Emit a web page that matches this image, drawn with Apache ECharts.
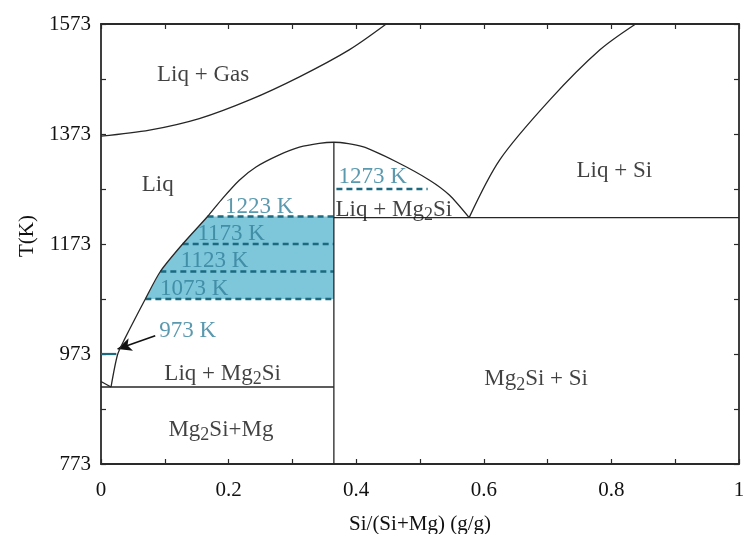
<!DOCTYPE html>
<html>
<head>
<meta charset="utf-8">
<script src="https://cdn.jsdelivr.net/npm/echarts@6/dist/echarts.min.js"></script>
<style>
  html, body { margin: 0; padding: 0; background: #ffffff; }
  #chart { width: 743px; height: 534px; }
</style>
</head>
<body>
<div id="chart"></div>
<script>
// Mg–Si phase diagram: mass fraction of Si against temperature (K)
const T_MIN = 773;
const T_MAX = 1573;
const xTickLabels = ['0', '0.2', '0.4', '0.6', '0.8', '1'];
const yTickLabels = ['773', '973', '1173', '1373', '1573'];

// Phase boundaries as [Si/(Si+Mg), T]
const gasBoundary = [[0, 1369], [0.076, 1380], [0.154, 1401], [0.233, 1435], [0.311, 1477], [0.389, 1526], [0.447, 1573]];
const mg2siLiquidus = [[0.0157, 913], [0.026, 972], [0.037, 1000], [0.0695, 1073], [0.093, 1123], [0.128, 1173], [0.167, 1223],
  [0.1906, 1256], [0.2168, 1289], [0.243, 1313], [0.2795, 1335], [0.311, 1349], [0.342, 1356], [0.365, 1358],
  [0.41, 1350], [0.462, 1323], [0.515, 1289], [0.546, 1262], [0.577, 1221]];
const siLiquidus = [[0.577, 1221], [0.625, 1326], [0.7035, 1435], [0.782, 1526], [0.838, 1573]];
const mgLiquidus = [[0, 923], [0.0157, 913]];
const mgEutectic = [[0, 913], [0.365, 913]];
const siEutectic = [[0.365, 1221], [1, 1221]];
const mg2siLine = [[0.365, 773], [0.365, 1358]];

// Process isotherms inside the Liq + Mg2Si field
const isoTemps = [1073, 1123, 1173, 1223];
const iso1273 = [[0.369, 1273], [0.512, 1273]];
const iso973 = [[0, 973], [0.024, 973]];
const arrow973 = [[0.085, 1006], [0.026, 982]];

// Annotations: [text, x, T]
const regionLabels = [
  ['Liq + Gas', 0.160, 1480],
  ['Liq', 0.089, 1280],
  ['Liq + Mg{s|2}Si', 0.459, 1235],
  ['Liq + Si', 0.8045, 1306],
  ['Mg{s|2}Si + Si', 0.682, 927],
  ['Liq + Mg{s|2}Si', 0.1906, 937],
  ['Mg{s|2}Si+Mg', 0.188, 835]
];
const tempLabels = [
  ['1223 K', 0.248, 1241],
  ['1173 K', 0.204, 1191],
  ['1123 K', 0.178, 1142],
  ['1073 K', 0.146, 1091],
  ['973 K', 0.136, 1014],
  ['1273 K', 0.4257, 1295]
];

const SERIF = '"Liberation Serif", "DejaVu Serif", serif';
const INK = '#111111';
const TEAL_TEXT = '#32809a';
const TEAL_LINE = '#1b6a80';
const FILL = '#7ec6da';

const toY = p => [p[0], p[1] - T_MIN];
const liquidusAt = T => mg2siLiquidus.find(p => p[1] === T);

function boundary(points, extra) {
  return Object.assign({
    type: 'line',
    data: points.map(toY),
    symbol: 'none',
    lineStyle: { color: '#262626', width: 1.3 },
    silent: true,
    z: 5
  }, extra || {});
}

const isoSeries = isoTemps.map(T => ({
  type: 'line',
  symbol: 'none',
  data: [[liquidusAt(T)[0], T], [0.365, T]].map(toY),
  lineStyle: { color: TEAL_LINE, width: 2.5, type: [6, 4] },
  silent: true,
  z: 4
}));

const fillPoly = isoTemps.map(T => liquidusAt(T)).concat([[0.365, 1223], [0.365, 1073]]);

function labelSeries(list, color) {
  return {
    type: 'scatter',
    symbolSize: 0,
    silent: true,
    z: 10,
    data: list.map(l => ({
      value: toY([l[1], l[2]]),
      label: { formatter: l[0] }
    })),
    label: {
      show: true,
      position: 'inside',
      fontFamily: SERIF,
      fontSize: 23,
      color: color,
      rich: { s: { color: color, fontSize: 18, fontFamily: SERIF, padding: [11, 0, 0, 0] } }
    }
  };
}

const axisLineStyle = { color: '#2a2a2a', width: 1.8 };
const tickStyle = { color: '#2a2a2a', width: 1.2 };

function frameAxis(extra) {
  return Object.assign({
    type: 'value',
    axisLine: { show: true, onZero: false, lineStyle: axisLineStyle },
    axisTick: { show: true, inside: true, length: 5, lineStyle: tickStyle },
    minorTick: { show: true, splitNumber: 2, length: 5, lineStyle: tickStyle },
    splitLine: { show: false }
  }, extra);
}

const option = {
  backgroundColor: '#ffffff',
  animation: false,
  grid: { left: 101, right: 4, top: 24, bottom: 70, outerBoundsMode: 'none', containLabel: false },
  xAxis: [
    frameAxis({
      min: 0, max: 1, interval: 0.2, position: 'bottom',
      name: 'Si/(Si+Mg) (g/g)', nameLocation: 'middle', nameGap: 50,
      nameTextStyle: { fontFamily: SERIF, fontSize: 21, color: INK },
      axisLabel: { margin: 16, fontFamily: SERIF, fontSize: 21, color: INK,
        formatter: (v, i) => xTickLabels[i] }
    }),
    frameAxis({ min: 0, max: 1, interval: 0.2, position: 'top', axisLabel: { show: false } })
  ],
  yAxis: [
    frameAxis({
      min: 0, max: T_MAX - T_MIN, interval: 200, position: 'left',
      name: 'T(K)', nameLocation: 'middle', nameGap: 63,
      nameTextStyle: { fontFamily: SERIF, fontSize: 21, color: INK, padding: [0, 0, 0, 16] },
      axisLabel: { margin: 10, fontFamily: SERIF, fontSize: 21, color: INK,
        formatter: (v, i) => yTickLabels[i] }
    }),
    frameAxis({ min: 0, max: T_MAX - T_MIN, interval: 200, position: 'right', axisLabel: { show: false } })
  ],
  series: [
    {
      type: 'custom',
      silent: true,
      z: 2,
      data: [[0, 0]],
      renderItem: (params, api) => ({
        type: 'polygon',
        shape: { points: fillPoly.map(p => api.coord(toY(p))) },
        style: { fill: FILL }
      })
    },
    boundary(gasBoundary, { smooth: 0.3 }),
    boundary(mg2siLiquidus, { smooth: 0.25 }),
    boundary(siLiquidus, { smooth: 0.3 }),
    boundary(mgLiquidus),
    boundary(mgEutectic),
    boundary(siEutectic),
    boundary(mg2siLine),
    ...isoSeries,
    {
      type: 'line', symbol: 'none', silent: true, z: 4,
      data: iso1273.map(toY),
      lineStyle: { color: TEAL_LINE, width: 2.5, type: [6, 4] }
    },
    {
      type: 'line', symbol: 'none', silent: true, z: 4,
      data: iso973.map(toY),
      lineStyle: { color: TEAL_LINE, width: 2.2 },
      markLine: {
        silent: true,
        symbol: ['none', 'arrow'],
        symbolSize: [10, 14],
        label: { show: false },
        lineStyle: { color: '#111111', width: 1.6, type: 'solid' },
        data: [[{ coord: toY(arrow973[0]) }, { coord: toY(arrow973[1]) }]]
      }
    },
    labelSeries(regionLabels, INK),
    labelSeries(tempLabels, TEAL_TEXT)
  ]
};

const chart = echarts.init(document.getElementById('chart'), null, { renderer: 'canvas' });
chart.setOption(option);
</script>
</body>
</html>
